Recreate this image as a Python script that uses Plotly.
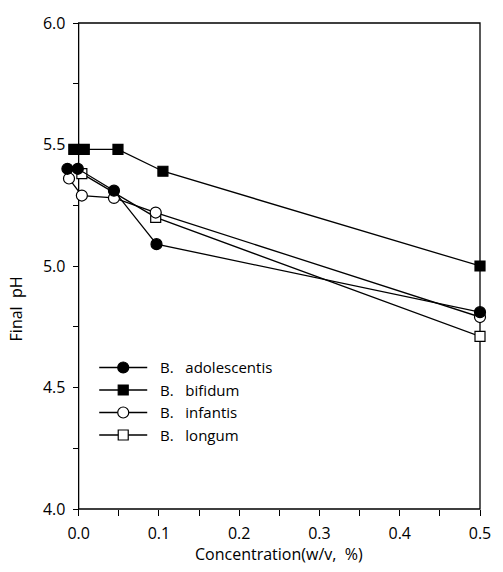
import plotly.graph_objects as go

# Data
adol_x = [-0.014, -0.001, 0.044, 0.097, 0.5]
adol_y = [5.40, 5.40, 5.31, 5.09, 4.81]
bifi_x = [-0.006, 0.007, 0.049, 0.105, 0.5]
bifi_y = [5.48, 5.48, 5.48, 5.39, 5.00]
infa_x = [-0.012, 0.004, 0.044, 0.096, 0.5]
infa_y = [5.36, 5.29, 5.28, 5.22, 4.79]
long_x = [0.004, 0.096, 0.5]
long_y = [5.38, 5.20, 4.71]

NB = "\u00a0"
names = [NB * 2 + "B." + NB * 2 + " adolescentis", NB * 2 + "B." + NB * 2 + " bifidum",
         NB * 2 + "B." + NB * 2 + " infantis", NB * 2 + "B." + NB * 2 + " longum"]

x_ticks = [0.0, 0.1, 0.2, 0.3, 0.4, 0.5]
x_ticklabels = ["0.0", "0.1", "0.2", "0.3", "0.4", "0.5"]
y_ticks = [4.0, 4.5, 5.0, 5.5, 6.0]
y_ticklabels = ["4.0", "4.5", "5.0", "5.5", "6.0"]

FONT = "Open Sans"
FS = 16
W, H = 503, 572
ML, MR, MT, MB = 65, 12, 13, 63
PW = W - ML - MR
PH = H - MT - MB
XMAX = 0.5
PX_PER_UNIT = 824.0
XMIN = XMAX - PW / PX_PER_UNIT
zero_pos = (0 - XMIN) / (XMAX - XMIN)

fig = go.Figure()

series = [
    (long_x, long_y, names[3], "square", "white"),
    (infa_x, infa_y, names[2], "circle", "white"),
    (adol_x, adol_y, names[0], "circle", "black"),
    (bifi_x, bifi_y, names[1], "square", "black"),
]
order = {names[0]: 1, names[1]: 2, names[2]: 3, names[3]: 4}
for xs, ys, nm, sym, fill in series:
    fig.add_trace(go.Scatter(
        x=xs, y=ys, name=nm, mode="lines+markers",
        line=dict(color="black", width=1.3),
        marker=dict(symbol=sym, size=10 if sym == "square" else 11,
                    color=fill, line=dict(color="black", width=1.2)),
        cliponaxis=False, legendrank=order[nm], legendgroup=nm,
    ))

fig.update_layout(
    width=W, height=H,
    margin=dict(l=ML, r=MR, t=MT, b=MB),
    paper_bgcolor="white", plot_bgcolor="white",
    font=dict(family=FONT, size=FS, color="black"),
    showlegend=True,
    legend=dict(x=(95 - ML) / PW, y=(MT + PH - 348) / PH, xanchor="left", yanchor="top",
                font=dict(family=FONT, size=15, color="black"),
                bgcolor="rgba(0,0,0,0)", itemwidth=48, tracegroupgap=0,
                traceorder="normal"),
    xaxis=dict(range=[XMIN, XMAX], showgrid=False, zeroline=False, showline=False,
               tickmode="array", tickvals=x_ticks, ticktext=x_ticklabels,
               ticks="outside", ticklen=6, tickwidth=1.2, tickcolor="black",
               minor=dict(tickmode="array", tickvals=[0.05, 0.15, 0.25, 0.35, 0.45],
                          ticks="outside", ticklen=6, tickwidth=1.2, tickcolor="black"),
               ticklabelstandoff=4),
    yaxis=dict(range=[4.0, 6.0], showgrid=False, zeroline=False, showline=False,
               anchor="free", position=zero_pos,
               tickmode="array", tickvals=y_ticks, ticktext=y_ticklabels,
               ticks="outside", ticklen=6, tickwidth=1.2, tickcolor="black",
               minor=dict(tickmode="array", tickvals=[4.25, 4.75, 5.25, 5.75],
                          ticks="outside", ticklen=6, tickwidth=1.2, tickcolor="black"),
               ticklabelstandoff=4),
    shapes=[dict(type="rect", xref="paper", yref="paper", x0=zero_pos, x1=1, y0=0, y1=1,
                 line=dict(color="black", width=1.3), layer="below")],
    annotations=[
        dict(text="Final" + NB * 2 + "pH", xref="paper", yref="paper",
             x=(15 - ML) / PW, y=(MT + PH - 305) / PH, showarrow=False,
             textangle=-90, font=dict(family=FONT, size=FS),
             xanchor="center", yanchor="middle"),
        dict(text="Concentration(w/v," + NB * 2 + "%)", xref="paper", yref="paper",
             x=(zero_pos + 1) / 2, y=(MT + PH - 555) / PH, showarrow=False,
             font=dict(family=FONT, size=FS), xanchor="center", yanchor="middle"),
    ],
)

fig.write_html("out.html")
